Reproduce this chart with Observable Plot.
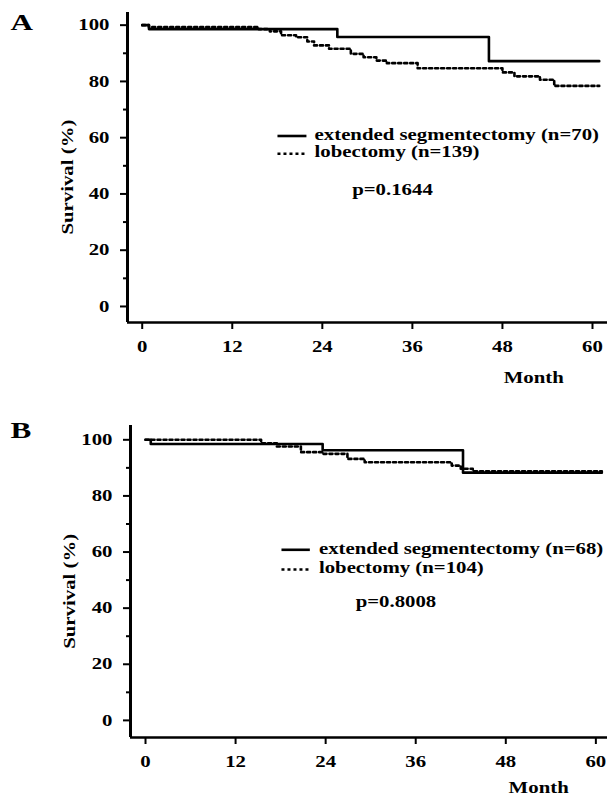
<!DOCTYPE html>
<html><head><meta charset="utf-8">
<script src="https://cdn.jsdelivr.net/npm/d3@7"></script>
<script src="https://cdn.jsdelivr.net/npm/@observablehq/plot@0.6"></script>
<style>
html,body{margin:0;padding:0;background:#fff;}
#chart{width:608px;height:799px;overflow:hidden;background:#fff;}
#chart svg{display:block;}
</style></head><body><div id="chart"></div>
<script>
// ---- data ----
const monthTicks = [0, 12, 24, 36, 48, 60];
const survivalTicks = [0, 20, 40, 60, 80, 100];
const survivalMinorTicks = [10, 30, 50, 70, 90];

const aSegMonth    = [0, 0.9, 26.0, 46.2, 60.9];
const aSegSurvival = [100, 98.6, 95.8, 87.2, 87.2];
const aLobMonth    = [0, 0.9, 15.5, 17.0, 18.5, 20.5, 22.0, 22.9, 24.9, 27.8, 29.5, 31.2, 32.6, 36.7, 48.0, 49.6, 53.0, 54.9, 60.9];
const aLobSurvival = [100, 99.3, 98.6, 97.8, 96.4, 95.7, 94.2, 92.8, 91.6, 89.8, 88.6, 87.4, 86.5, 84.7, 83.2, 81.8, 80.6, 78.4, 78.4];

const bSegMonth    = [0, 0.7, 23.6, 42.3, 60.8];
const bSegSurvival = [100, 98.5, 96.3, 88.3, 88.3];
const bLobMonth    = [0, 15.4, 17.5, 20.7, 23.6, 26.9, 29.2, 40.8, 42.0, 43.6, 60.8];
const bLobSurvival = [100, 98.8, 97.6, 95.6, 95.0, 93.2, 92.0, 90.8, 89.7, 88.8, 88.8];

const panelLetters = ["A", "B"];
const legendLabelsA = ["extended segmentectomy (n=70)", "lobectomy (n=139)"];
const legendLabelsB = ["extended segmentectomy (n=68)", "lobectomy (n=104)"];
const pValueLabels = ["p=0.1644", "p=0.8008"];
const xLabel = "Month";
const yLabel = "Survival (%)";

// ---- layout (positions / sizes / styles) ----
const FONT = "'Liberation Serif', 'Times New Roman', serif";
const TEXT_STRETCH = 1.3;
const layouts = [
  { height: 400, ml: 127, mt: 12, mb: 78, xDomain: [-1.96, 62.0], yDomain: [-5.7, 104.5],
    sampleX: [18.09, 21.95], textX: 22.97, rowY: [60.6, 54.3], pPos: [27.98, 41.6],
    letter: [-117, 9.5], month: [-43.7, 55.5], ylab: [-60, 9.6] },
  { height: 399, ml: 130, mt: 25, mb: 62, xDomain: [-2.0, 61.55], yDomain: [-6.1, 105.1],
    sampleX: [18.18, 21.96], textX: 23.1, rowY: [60.8, 53.8], pPos: [28.0, 42.4],
    letter: [-120, 5.0], month: [-38.8, 50.5], ylab: [-61, 9.8] }
];

function toRows(months, surv) { return months.map((m, i) => ({month: m, survival: surv[i]})); }

function panel(i, segM, segS, lobM, lobS, legendLabels) {
  const L = layouts[i];
  const seg = toRows(segM, segS);
  const lob = toRows(lobM, lobS);
  const rows = legendLabels.map((label, k) => ({label, y: L.rowY[k], x1: L.sampleX[0], x2: L.sampleX[1], tx: L.textX}));
  const pRow = [{label: pValueLabels[i], x: L.pPos[0], y: L.pPos[1]}];
  const svg = Plot.plot({
    width: 608, height: L.height,
    marginLeft: L.ml, marginRight: 1, marginTop: L.mt, marginBottom: L.mb,
    style: {fontFamily: FONT, fontSize: "16px", fontWeight: "bold", color: "black", background: "white", overflow: "visible"},
    x: {domain: L.xDomain},
    y: {domain: L.yDomain},
    marks: [
      Plot.axisY(survivalMinorTicks, {tickSize: 4, tickFormat: () => "", strokeWidth: 2, label: null}),
      Plot.axisY(survivalTicks, {tickSize: 7, tickPadding: 11, strokeWidth: 2, label: null}),
      Plot.axisX(monthTicks, {tickSize: 7, tickPadding: 11, strokeWidth: 2, label: null}),
      Plot.ruleX([L.xDomain[0]], {strokeWidth: 3}),
      Plot.ruleY([L.yDomain[0]], {strokeWidth: 2.6}),
      Plot.line(lob, {x: "month", y: "survival", curve: "step-after", strokeWidth: 2.6, strokeDasharray: "3,3"}),
      Plot.line(seg, {x: "month", y: "survival", curve: "step-after", strokeWidth: 2.6}),
      Plot.ruleY(rows.slice(0, 1), {y: "y", x1: "x1", x2: "x2", strokeWidth: 2.6}),
      Plot.ruleY(rows.slice(1, 2), {y: "y", x1: "x1", x2: "x2", strokeWidth: 2.6, strokeDasharray: "3,3"}),
      Plot.text(rows, {x: "tx", y: d => d.y + 0.5, text: "label", textAnchor: "start", lineAnchor: "middle"}),
      Plot.text(pRow, {x: "x", y: "y", text: "label", textAnchor: "start", lineAnchor: "middle"}),
      Plot.text([panelLetters[i]], {frameAnchor: "top-left", text: d => d, textAnchor: "start", lineAnchor: "middle", fontSize: 24, dx: L.letter[0], dy: L.letter[1]}),
      Plot.text([xLabel], {frameAnchor: "bottom-right", text: d => d, textAnchor: "end", lineAnchor: "middle", dx: L.month[0], dy: L.month[1]}),
      Plot.text([yLabel], {frameAnchor: "left", text: d => d, textAnchor: "middle", lineAnchor: "middle", rotate: -90, dx: L.ylab[0], dy: L.ylab[1]})
    ]
  });
  // wide typesetting of the original: stretch glyphs along the text direction around their anchor
  svg.querySelectorAll("text").forEach(el => {
    const t = el.getAttribute("transform") || "";
    const x = +(el.getAttribute("x") || 0);
    el.setAttribute("transform", `${t} translate(${x},0) scale(${TEXT_STRETCH},1) translate(${-x},0)`);
  });
  return svg;
}

const chart = document.getElementById("chart");
chart.append(panel(0, aSegMonth, aSegSurvival, aLobMonth, aLobSurvival, legendLabelsA));
chart.append(panel(1, bSegMonth, bSegSurvival, bLobMonth, bLobSurvival, legendLabelsB));
</script>
</body></html>
